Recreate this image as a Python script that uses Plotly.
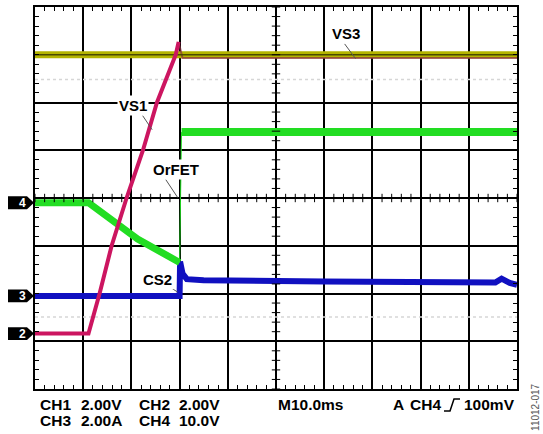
import plotly.graph_objects as go

# Time axis in ms (10 ms/div), vertical axis in screen divisions (0 = bottom graticule line)
vs3_t = [0, 100]
vs3_y = [7.0, 7.0]

vs1_t = [0, 11.1, 13.4, 15.9, 19.0, 22.4, 25.3, 29.2, 29.8]
vs1_y = [1.16, 1.16, 2.0, 3.0, 4.0, 5.0, 6.0, 7.0, 7.27]
vs1_tail_t = [29.8, 30.6, 100]
vs1_tail_y = [7.27, 6.93, 6.93]

orfet_pre_t = [0, 11.1, 21.3, 30.0]
orfet_pre_y = [3.9, 3.9, 3.14, 2.65]
orfet_post_t = [30.4, 100]
orfet_post_y = [5.38, 5.38]

cs2_t = [0, 30.0, 30.1, 30.6, 31.5, 35, 60, 90, 95.5, 96.8, 98.5, 100]
cs2_y = [1.95, 1.95, 2.67, 2.42, 2.3, 2.28, 2.25, 2.23, 2.23, 2.31, 2.22, 2.18]

ghost_levels = [6.48, 1.51]

ch_labels = ["4", "3", "2"]
ch_levels = [3.9, 1.95, 1.16]

labels = ["VS3", "VS1", "OrFET", "CS2"]
label_t = [64.5, 20.3, 29.3, 25.5]
label_y = [7.44, 5.94, 4.6, 2.29]
leader_tail_t = [64.0, 22.1, 26.9, 27.7]
leader_tail_y = [7.26, 5.76, 4.42, 2.15]
leader_tip_t = [66.5, 24.3, 29.6, 29.6]
leader_tip_y = [6.92, 5.43, 4.01, 2.03]

footer_row1 = [("CH1", 38), ("2.00V", 79), ("CH2", 137), ("2.00V", 177), ("M10.0ms", 276), ("A", 391), ("CH4", 408), ("100mV", 462)]
footer_row2 = [("CH3", 38), ("2.00A", 79), ("CH4", 137), ("10.0V", 177)]

W, H = 543, 434
L_M, R_M, T_M, B_M = 35, 26, 5, 45
PW, PH = W - L_M - R_M, H - T_M - B_M


def px_x(px):
    return (px - L_M) / PW


def px_y(py):
    return (H - B_M - py) / PH


fig = go.Figure()

for g in ghost_levels:
    fig.add_trace(go.Scatter(x=[0, 100], y=[g, g], mode="lines",
                             line=dict(color="#d6d6d6", width=1.5, dash="dot"), hoverinfo="skip"))

fig.add_trace(go.Scatter(x=cs2_t, y=cs2_y, mode="lines", line=dict(color="#1010c0", width=6)))
fig.add_trace(go.Scatter(x=orfet_pre_t, y=orfet_pre_y, mode="lines", line=dict(color="#22dd22", width=7)))
fig.add_trace(go.Scatter(x=[orfet_pre_t[-1], orfet_post_t[0]], y=[orfet_pre_y[-1], orfet_post_y[0]],
                         mode="lines", line=dict(color="#22dd22", width=1)))
fig.add_trace(go.Scatter(x=orfet_post_t, y=orfet_post_y, mode="lines", line=dict(color="#22dd22", width=8)))
fig.add_trace(go.Scatter(x=vs3_t, y=vs3_y, mode="lines", line=dict(color="#b4b400", width=7)))
fig.add_trace(go.Scatter(x=vs1_tail_t, y=vs1_tail_y, mode="lines", line=dict(color="#8a3040", width=2), opacity=0.7))
fig.add_trace(go.Scatter(x=vs3_t, y=vs3_y, mode="lines", line=dict(color="#4a4a00", width=1.5)))
fig.add_trace(go.Scatter(x=vs1_t, y=vs1_y, mode="lines", line=dict(color="#cc1560", width=4)))

# centre crosshair minor ticks
cx = [i * 2 for i in range(51)]
fig.add_trace(go.Scatter(x=cx, y=[4] * len(cx), mode="markers",
                         marker=dict(symbol="line-ns", size=6, line=dict(color="black", width=1)), hoverinfo="skip"))
cy = [i * 0.2 for i in range(41)]
fig.add_trace(go.Scatter(x=[50] * len(cy), y=cy, mode="markers",
                         marker=dict(symbol="line-ew", size=6, line=dict(color="black", width=1)), hoverinfo="skip"))

annotations = []
shapes = []
for txt, tx, ty, at, ay, tt, tyy in zip(labels, label_t, label_y, leader_tail_t, leader_tail_y, leader_tip_t, leader_tip_y):
    annotations.append(dict(x=tt, y=tyy, ax=at, ay=ay, xref="x", yref="y", axref="x", ayref="y",
                            showarrow=True, arrowhead=0, arrowwidth=1, arrowcolor="#555555", text=""))
    annotations.append(dict(x=tx, y=ty, xref="x", yref="y", text="<b>%s</b>" % txt, showarrow=False,
                            font=dict(family="Liberation Sans", size=15, color="black"),
                            bgcolor="white", borderpad=1))

for lab, lev in zip(ch_labels, ch_levels):
    x0, x1, x2 = px_x(8), px_x(27), px_x(34)
    h = 0.135
    shapes.append(dict(type="path", xref="paper", yref="y",
                       path=f"M {x0},{lev - h} L {x1},{lev - h} L {x2},{lev} L {x1},{lev + h} L {x0},{lev + h} Z",
                       fillcolor="black", line=dict(color="black", width=0)))
    annotations.append(dict(x=px_x(17), y=lev, xref="paper", yref="y", text="<b>%s</b>" % lab, showarrow=False,
                            font=dict(family="Liberation Sans", size=12, color="white")))

for row, py in ((footer_row1, 405), (footer_row2, 421)):
    for txt, px in row:
        annotations.append(dict(x=px_x(px), y=px_y(py), xref="paper", yref="paper", text="<b>%s</b>" % txt,
                                showarrow=False, xanchor="left", yanchor="middle",
                                font=dict(family="Liberation Sans", size=15.5, color="black")))

# trigger edge symbol
shapes.append(dict(type="path", xref="paper", yref="paper",
                   path=f"M {px_x(444)},{px_y(411)} L {px_x(450)},{px_y(411)} L {px_x(454)},{px_y(399)} L {px_x(460)},{px_y(399)}",
                   line=dict(color="black", width=1.5)))

annotations.append(dict(x=px_x(536), y=px_y(407), xref="paper", yref="paper", text="11012-017", textangle=-90,
                        xanchor="center", yanchor="middle",
                        showarrow=False, font=dict(family="Liberation Sans", size=10, color="#555555")))

fig.update_layout(
    width=W, height=H, margin=dict(l=L_M, r=R_M, t=T_M, b=B_M),
    paper_bgcolor="white", plot_bgcolor="white", showlegend=False,
    annotations=annotations, shapes=shapes,
    xaxis=dict(range=[0, 100], dtick=10, tick0=0, showgrid=True, gridcolor="black", gridwidth=1.5,
               showline=True, linecolor="black", linewidth=2, mirror="allticks", ticks="inside", ticklen=4,
               tickcolor="black", showticklabels=False, zeroline=False, fixedrange=True,
               minor=dict(dtick=2, ticks="inside", ticklen=4, tickcolor="black", showgrid=False)),
    yaxis=dict(range=[0, 8], dtick=1, tick0=0, showgrid=True, gridcolor="black", gridwidth=1.5,
               showline=True, linecolor="black", linewidth=2, mirror="allticks", ticks="inside", ticklen=4,
               tickcolor="black", showticklabels=False, zeroline=False, fixedrange=True,
               minor=dict(dtick=0.2, ticks="inside", ticklen=4, tickcolor="black", showgrid=False)),
)

fig.write_html("out.html", config={"displayModeBar": False},
               post_script="document.body.style.margin='0';document.body.style.overflow='hidden';")
